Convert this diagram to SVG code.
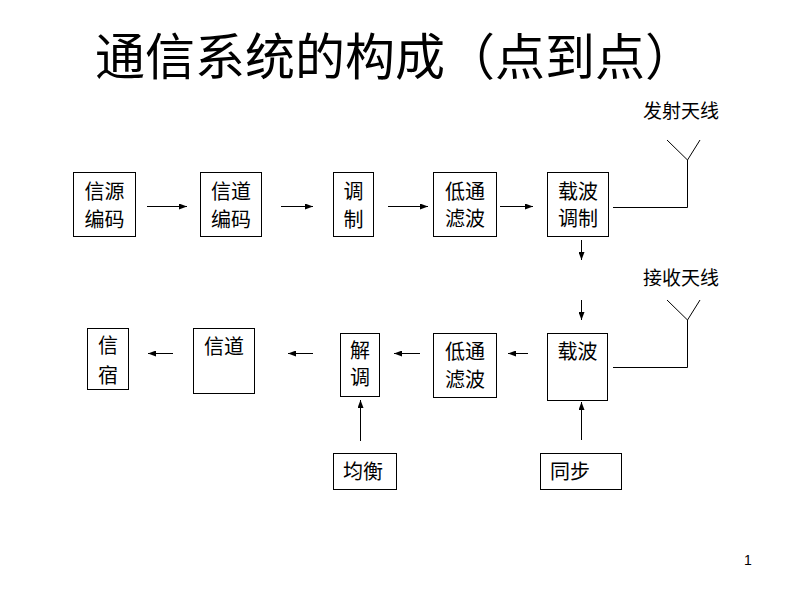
<svg xmlns="http://www.w3.org/2000/svg" width="800" height="600" viewBox="0 0 800 600">
<style>
text{font-family:"Noto Sans CJK SC","Noto Sans",sans-serif;fill:#000}
.t{font-size:20px;text-anchor:middle}
.lb{font-size:19px;text-anchor:middle}
.title{font-size:50px}
rect{fill:#fff;stroke:#000;stroke-width:1}
.c line,.c polyline{stroke:#000;stroke-width:1;fill:none}
.a{marker-end:url(#ah)}
</style>
<defs>
<marker id="ah" markerUnits="userSpaceOnUse" markerWidth="8" markerHeight="6" refX="8" refY="3" orient="auto">
<path d="M0,0 L8,3 L0,6 z" fill="#000"/>
</marker>
</defs>
<rect x="0" y="0" width="800" height="600" style="stroke:none;fill:#fff"/>
<text class="title" x="95" y="75">通信系统的构成（点到点）</text>
<text x="748" y="565" style="font-family:'Liberation Sans',sans-serif;font-size:14px;text-anchor:middle">1</text>

<g id="n1"><rect x="73.5" y="172.5" width="62" height="64"/><text class="t" x="104.5" y="198.5">信源</text><text class="t" x="104.5" y="226.5">编码</text></g>
<g id="n2"><rect x="200.5" y="172.5" width="61" height="64"/><text class="t" x="231" y="198.5">信道</text><text class="t" x="231" y="226.5">编码</text></g>
<g id="n3"><rect x="333.5" y="172.5" width="40" height="64"/><text class="t" x="353.5" y="198.5">调</text><text class="t" x="353.5" y="226.5">制</text></g>
<g id="n4"><rect x="433.5" y="172.5" width="63" height="64"/><text class="t" x="465" y="198.5">低通</text><text class="t" x="465" y="225.5">滤波</text></g>
<g id="n5"><rect x="547.5" y="172.5" width="61" height="64"/><text class="t" x="578" y="198.5">载波</text><text class="t" x="578" y="225.5">调制</text></g>
<g id="n6"><rect x="547.5" y="333.5" width="60" height="67"/><text class="t" x="577.5" y="358.5">载波</text></g>
<g id="n7"><rect x="433.5" y="333.5" width="63" height="64"/><text class="t" x="465" y="359">低通</text><text class="t" x="465" y="386.5">滤波</text></g>
<g id="n8"><rect x="340.5" y="333.5" width="39" height="63"/><text class="t" x="360" y="357.5">解</text><text class="t" x="360" y="384.5">调</text></g>
<g id="n9"><rect x="193.5" y="328.5" width="61" height="65"/><text class="t" x="224" y="353.5">信道</text></g>
<g id="n10"><rect x="87.5" y="328.5" width="41" height="61"/><text class="t" x="108" y="352.5">信</text><text class="t" x="108" y="382.5">宿</text></g>
<g id="n11"><rect x="333.5" y="453.5" width="63" height="36"/><text class="t" x="363" y="478.5">均衡</text></g>
<g id="n12"><rect x="540.5" y="453.5" width="81" height="36"/><text class="t" x="570" y="478.5">同步</text></g>
<g id="ant-tx"><text class="lb" x="681" y="118">发射天线</text></g>
<g id="ant-rx"><text class="lb" x="681" y="285">接收天线</text></g>

<g class="c" id="connectors">
<line class="a" x1="147" y1="206.5" x2="187" y2="206.5"/>
<line class="a" x1="281" y1="206.5" x2="313" y2="206.5"/>
<line class="a" x1="388" y1="206.5" x2="428" y2="206.5"/>
<line class="a" x1="500" y1="206.5" x2="533" y2="206.5"/>
<line class="a" x1="581.5" y1="240" x2="581.5" y2="260"/>
<line class="a" x1="581.5" y1="300" x2="581.5" y2="320"/>
<line class="a" x1="528" y1="353.5" x2="508" y2="353.5"/>
<line class="a" x1="420" y1="353.5" x2="394" y2="353.5"/>
<line class="a" x1="313" y1="353.5" x2="288" y2="353.5"/>
<line class="a" x1="173" y1="353.5" x2="148" y2="353.5"/>
<line class="a" x1="360.5" y1="441" x2="360.5" y2="400"/>
<line class="a" x1="581.5" y1="440" x2="581.5" y2="402"/>
<polyline points="613,207.5 687.5,207.5 687.5,160"/>
<polyline points="667,140 687.5,160 700,140"/>
<polyline points="613,367.5 687.5,367.5 687.5,320"/>
<polyline points="667,300 687.5,320 700,300"/>
</g>
</svg>
